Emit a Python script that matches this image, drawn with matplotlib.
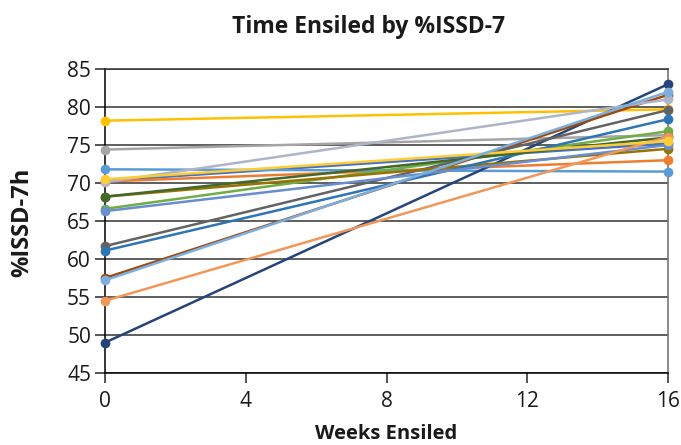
import matplotlib
matplotlib.use("Agg")
import matplotlib.pyplot as plt

plt.rcParams['font.family'] = ['Open Sans', 'DejaVu Sans']

weeks = [0, 16]

# %ISSD-7h at week 0 and week 16 for each silo
start_values = [70.3, 70.2, 74.4, 78.2, 71.8, 66.6, 49.0, 57.5, 61.7, 68.2,
                61.1, 68.2, 66.3, 54.5, 70.1, 70.5, 57.2]
end_values = [75.2, 73.0, 76.3, 79.7, 71.5, 76.8, 83.0, 81.6, 79.6, 74.5,
              78.4, 76.0, 75.0, 76.1, 81.0, 75.5, 82.0]

series_colors = ['#4472C4', '#ED7D31', '#A5A5A5', '#FFC000', '#5B9BD5',
                 '#70AD47', '#264478', '#9E480E', '#636363', '#997300',
                 '#2E75B6', '#43682B', '#698ED0', '#F1975A', '#AEB5C8',
                 '#FFCD33', '#7CAFDD']

x_ticks = [0, 4, 8, 12, 16]
y_ticks = [45, 50, 55, 60, 65, 70, 75, 80, 85]

fig = plt.figure(figsize=(6.81, 4.45), dpi=100)
ax = fig.add_axes([105 / 681, 1 - 373 / 445, 563 / 681, 304 / 445])

for s, e, c in zip(start_values, end_values, series_colors):
    ax.plot(weeks, [s, e], color=c, linewidth=1.8, marker='o',
            markersize=7, markeredgewidth=0, solid_capstyle='round',
            zorder=3, clip_on=False)

ax.set_xlim(0, 16)
ax.set_ylim(45, 85)
ax.set_xticks(x_ticks)
ax.set_yticks(y_ticks)
ax.yaxis.grid(True, color='#333333', linewidth=1.1)
ax.set_axisbelow(True)

for side in ('left', 'bottom'):
    ax.spines[side].set_color('#000000')
    ax.spines[side].set_linewidth(1.1)
ax.spines['right'].set_color('#6b6b6b')
ax.spines['right'].set_linewidth(1.1)
ax.spines['top'].set_color('#333333')
ax.spines['top'].set_linewidth(1.1)

ax.tick_params(axis='both', direction='out', length=7, width=1.1,
               color='#262626', labelsize=15, labelcolor='#1a1a1a')
ax.tick_params(axis='x', pad=6)
ax.tick_params(axis='y', pad=3)

fig.text(22 / 681, 1 - 222 / 445, '%ISSD-7h', ha='center', va='center',
         rotation=90, fontsize=17, fontweight='bold', color='#1a1a1a')
fig.text(386 / 681, 1 - 434 / 445, 'Weeks Ensiled', ha='center',
         va='center', fontsize=14.5, fontweight='bold', color='#1a1a1a')
fig.text(369 / 681, 1 - 27 / 445, 'Time Ensiled by %ISSD-7', ha='center',
         va='center', fontsize=16.5, fontweight='bold', color='#1a1a1a')

fig.savefig('out.png', dpi=100)
